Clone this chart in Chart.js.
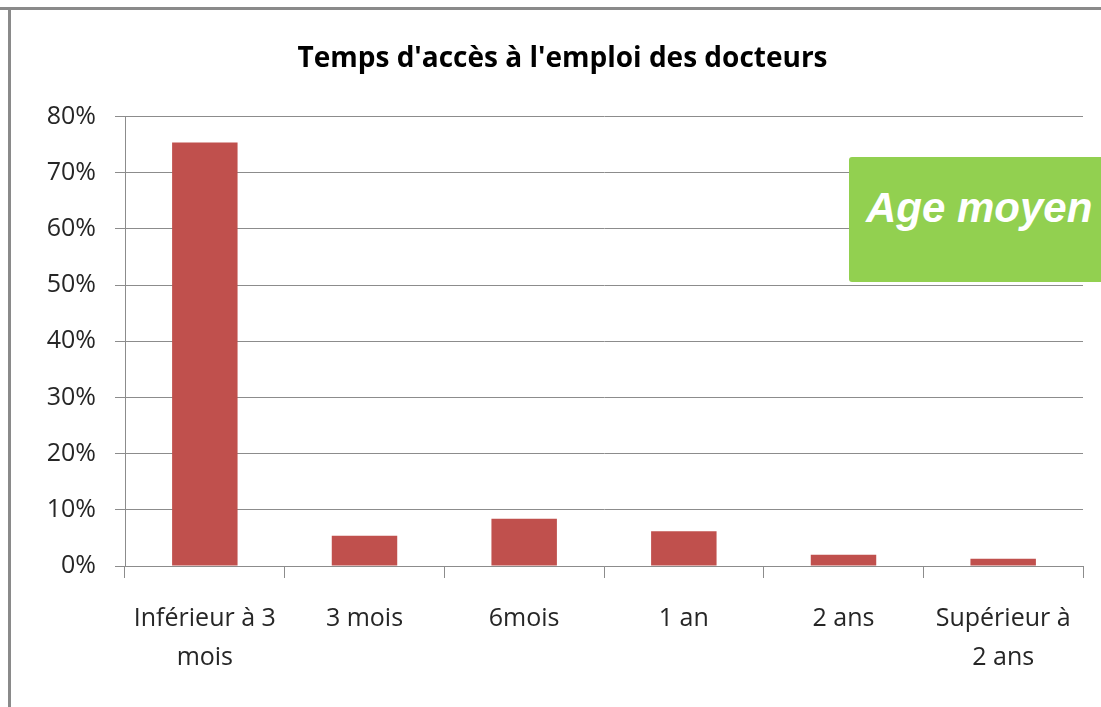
<!DOCTYPE html>
<html>
<head>
<meta charset="utf-8">
<title>Temps d'accès à l'emploi des docteurs</title>
<script src="https://cdn.jsdelivr.net/npm/chart.js@4"></script>
<style>
  html, body { margin: 0; padding: 0; background: #fff; overflow: hidden; }
  #wrap { position: relative; width: 1101px; height: 707px; }
  #chart { position: absolute; left: 0; top: 0; }
  .frame-top { position: absolute; left: 0; top: 7px; width: 1101px; height: 3px; background: #8a8a8a; }
  .frame-left { position: absolute; left: 8px; top: 7px; width: 3px; height: 700px; background: #8a8a8a; }
  .badge {
    position: absolute; left: 849px; top: 157px; width: 270px; height: 125px;
    background: #92d050; border-radius: 3px;
    font: italic bold 42px "Liberation Sans", Arial, sans-serif; color: #fff;
    box-sizing: border-box; padding: 27px 0 0 17px; white-space: nowrap;
  }
</style>
</head>
<body>
<div id="wrap">
  <canvas id="chart" width="1101" height="707"></canvas>
  <div class="frame-top"></div>
  <div class="frame-left"></div>
  <div class="badge">Age moyen</div>
</div>
<script>
  const title = "Temps d'accès à l'emploi des docteurs"
  const categories = [
    ['Inférieur à 3', 'mois'],
    '3 mois',
    '6mois',
    '1 an',
    '2 ans',
    ['Supérieur à', '2 ans'],
  ]
  const shares = [75.4, 5.4, 8.4, 6.2, 2.0, 1.3]
  const yTicks = [0, 10, 20, 30, 40, 50, 60, 70, 80]

  const font = '"Open Sans", "Noto Sans", sans-serif'
  const gridColor = '#8c8c8c'

  new Chart('chart', {
    type: 'bar',
    data: {
      labels: categories,
      datasets: [{
        data: shares,
        backgroundColor: '#c0504d',
        borderWidth: 0,
        barPercentage: 0.41,
        categoryPercentage: 1,
      }],
    },
    options: {
      responsive: false,
      animation: false,
      // left padding keeps the title centred like the original
      layout: { padding: { top: 0, right: 18, bottom: 0, left: 42 } },
      plugins: {
        legend: { display: false },
        tooltip: { enabled: false },
        title: {
          display: true,
          text: title,
          color: '#000',
          font: { family: font, size: 28, weight: 'bold', lineHeight: 1.2 },
          padding: { top: 42, bottom: 41 },
        },
      },
      scales: {
        x: {
          offset: true,
          grid: {
            offset: true,
            drawOnChartArea: false,
            drawTicks: true,
            tickLength: 12,
            color: gridColor,
          },
          border: { color: gridColor, width: 1 },
          ticks: {
            color: '#262626',
            font: { family: font, size: 25, lineHeight: 1.58 },
            padding: 21,
            maxRotation: 0,
            autoSkip: false,
          },
          afterFit: s => { s.height = 141 },
        },
        y: {
          min: 0,
          max: 80,
          afterBuildTicks: s => { s.ticks = yTicks.map(v => ({ value: v })) },
          grid: { color: gridColor, tickLength: 10 },
          border: { color: gridColor, width: 1 },
          ticks: {
            color: '#262626',
            font: { family: font, size: 25 },
            padding: 19,
            callback: v => v + '%',
          },
          afterFit: s => { s.width = 83 },
        },
      },
    },
  })
</script>
</body>
</html>
